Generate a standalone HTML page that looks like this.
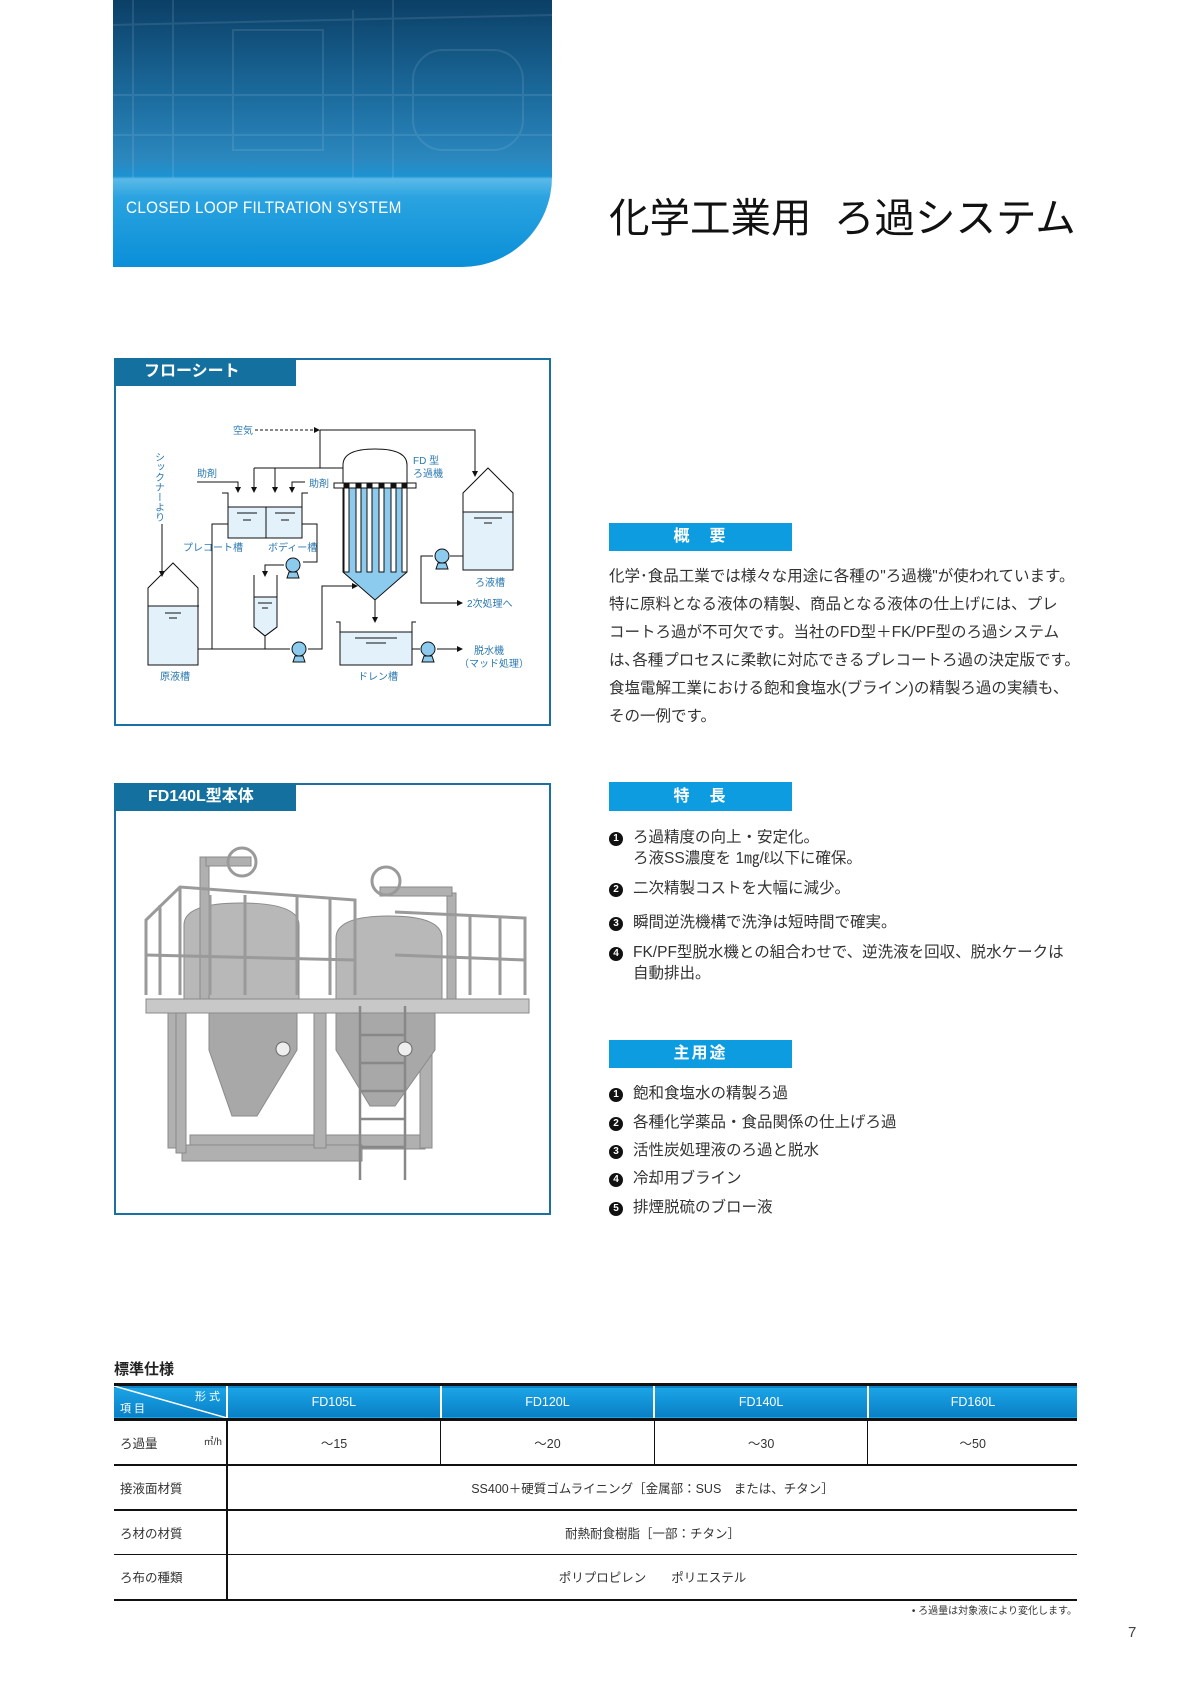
<!DOCTYPE html>
<html><head><meta charset="utf-8">
<style>
*{margin:0;padding:0;box-sizing:border-box}
body{width:1191px;height:1684px;background:#fff;position:relative;overflow:hidden;font-family:"Liberation Sans","Noto Sans CJK JP",sans-serif;color:#222}
.abs{position:absolute}
.tab{position:absolute;background:#0e9ce0;color:#fff;font-weight:bold;font-size:16px;text-align:center;letter-spacing:2px}
.para div{height:28px;line-height:28px;font-size:15.5px;white-space:nowrap;color:#333}
.li{position:absolute;left:609px;font-size:15.5px;white-space:nowrap;color:#333;line-height:21px}
.li b{display:inline-block;width:14px;height:14px;border-radius:50%;background:#111;color:#fff;font-size:10px;text-align:center;line-height:14px;margin-right:10px;vertical-align:1px}
.box{position:absolute;border:2px solid #1a6fa3;background:#fff}
.boxtab{position:absolute;left:-2px;top:-2px;height:28px;width:182px;background:#14709f;color:#fff;font-weight:bold;font-size:16px;line-height:28px;padding-left:30px}
table{border-collapse:collapse;position:absolute;left:114px;top:1383px;width:963px;font-size:12.5px;color:#333}
td{text-align:center}
</style></head><body>

<!-- banner -->
<div class="abs" style="left:113px;top:0;width:439px;height:267px;border-bottom-right-radius:90px;overflow:hidden;background:linear-gradient(180deg,#0b3f66 0%,#1b6a9c 35%,#2b88bf 60%,#1d93d2 66%,#5bb9e8 67%,#2aa3e0 74%,#0a8fd8 100%)">
<svg width="439" height="178" style="position:absolute;left:0;top:0;opacity:.12">
<g stroke="#cde" stroke-width="2" fill="none">
<rect x="120" y="30" width="90" height="120"/><rect x="300" y="50" width="110" height="100" rx="30"/>
<line x1="20" y1="0" x2="20" y2="178"/><line x1="60" y1="0" x2="60" y2="178"/><line x1="240" y1="10" x2="240" y2="178"/><line x1="280" y1="0" x2="280" y2="178"/><line x1="0" y1="95" x2="439" y2="95"/><line x1="0" y1="135" x2="439" y2="135"/><line x1="0" y1="25" x2="439" y2="15"/></g></svg>
<div class="abs" style="left:13px;top:198px;color:#fff;font-size:17px;letter-spacing:.3px;transform:scaleX(.9);transform-origin:left;white-space:nowrap">CLOSED LOOP FILTRATION SYSTEM</div>
</div>

<div class="abs" style="left:609px;top:185px;font-size:40.5px;color:#111;white-space:nowrap;letter-spacing:0px">化学工業用&nbsp;&nbsp;ろ過システム</div>

<!-- flow sheet -->
<div class="box" style="left:114px;top:358px;width:437px;height:368px"><div class="boxtab">フローシート</div></div>
<svg class="abs" style="left:0;top:0" width="1191" height="760" font-family="Liberation Sans,Noto Sans CJK JP,sans-serif" font-size="9" fill="#2a78b0">
<defs><marker id="ar" markerWidth="6" markerHeight="6" refX="5" refY="3" orient="auto"><path d="M0,0 L6,3 L0,6z" fill="#111"/></marker></defs>
<g stroke="#111" stroke-width="1" fill="none">
<line x1="255" y1="430" x2="319" y2="430" stroke-dasharray="3,2" marker-end="url(#ar)"/>
<polyline points="320,430 475,430 475,476" marker-end="url(#ar)"/>
<polyline points="320,430 320,468 343,468"/>
<polyline points="254,468 320,468"/>
<line x1="254" y1="468" x2="254" y2="492" marker-end="url(#ar)"/>
<line x1="275" y1="468" x2="275" y2="492" marker-end="url(#ar)"/>
<polyline points="197,482 238,482 238,492" marker-end="url(#ar)"/>
<polyline points="305,482 292,482 292,492" marker-end="url(#ar)"/>
<polyline points="228,524 212,524 212,649"/>
<polyline points="302,524 317,524 317,562 303,562"/>
<polyline points="284,565 265,565 265,576" marker-end="url(#ar)"/>
<line x1="162" y1="524" x2="162" y2="576" marker-end="url(#ar)"/>
<polyline points="198,649 290,649"/>
<line x1="265" y1="636" x2="265" y2="649"/>
<polyline points="308,649 322,649 322,586 357,586" marker-end="url(#ar)"/>
<line x1="375" y1="600" x2="375" y2="622" marker-end="url(#ar)"/>
<polyline points="412,649 420,649"/><polyline points="437,649 462,649" marker-end="url(#ar)"/>
<polyline points="463,556 450,556"/><polyline points="433,556 421,556 421,603 462,603" marker-end="url(#ar)"/>
</g>
<g stroke="#111" stroke-width="1">
<rect x="228" y="507" width="74" height="31" fill="#e3f1fb"/>
<polyline points="222,493 228,493 228,538 302,538 302,493 308,493" fill="none"/>
<line x1="266" y1="507" x2="266" y2="538"/>
<line x1="237" y1="513" x2="257" y2="513"/><line x1="243" y1="520" x2="251" y2="520"/>
<line x1="275" y1="513" x2="295" y2="513"/><line x1="281" y1="520" x2="289" y2="520"/>
<path d="M254,597 L277,597 L277,627 L265,636 L254,627Z" fill="#e3f1fb"/>
<polyline points="254,575 254,627 265,636 277,627 277,575" fill="none"/>
<line x1="258" y1="603" x2="272" y2="603"/><line x1="262" y1="608" x2="268" y2="608"/>
<rect x="148" y="606" width="50" height="59" fill="#e3f1fb"/>
<polyline points="148,665 148,588 173,563 198,588 198,665 148,665" fill="none"/>
<line x1="148" y1="606" x2="199" y2="606"/>
<line x1="165" y1="613" x2="181" y2="613"/><line x1="169" y1="618" x2="177" y2="618"/>
<path d="M343,483 L343,465 Q343,449 375,449 Q407,449 407,465 L407,483Z" fill="#fff"/>
<path d="M343,488 L407,488 L407,572 L375,600 L343,572Z" fill="#8ccbee"/>
<rect x="334" y="483" width="82" height="5" fill="#fff"/>
<g fill="#fff"><rect x="344" y="488" width="5" height="84"/><rect x="356" y="488" width="5" height="84"/><rect x="367" y="488" width="5" height="84"/><rect x="379" y="488" width="5" height="84"/><rect x="391" y="488" width="5" height="84"/><rect x="402" y="488" width="5" height="84"/></g>
<g fill="#111"><rect x="344" y="483" width="5" height="5"/><rect x="356" y="483" width="5" height="5"/><rect x="367" y="483" width="5" height="5"/><rect x="379" y="483" width="5" height="5"/><rect x="391" y="483" width="5" height="5"/><rect x="402" y="483" width="5" height="5"/></g>
<rect x="340" y="632" width="72" height="33" fill="#e3f1fb"/>
<polyline points="336,622 340,622 340,665 412,665 412,622 416,622" fill="none"/>
<line x1="355" y1="638" x2="397" y2="638"/><line x1="366" y1="643" x2="386" y2="643"/>
<rect x="463" y="512" width="50" height="58" fill="#e3f1fb"/>
<polyline points="463,570 463,493 488,468 513,493 513,570 463,570" fill="none"/>
<line x1="463" y1="512" x2="513" y2="512"/>
<line x1="474" y1="518" x2="502" y2="518"/><line x1="484" y1="523" x2="492" y2="523"/>
<g fill="#8ccbee">
<path d="M289,572 L297,572 L299,578 L287,578Z"/><circle cx="293" cy="565" r="7"/>
<path d="M295,656 L303,656 L305,662 L293,662Z"/><circle cx="299" cy="649" r="7"/>
<path d="M424,656 L432,656 L434,662 L422,662Z"/><circle cx="428" cy="649" r="7"/>
<path d="M438,563 L446,563 L448,569 L436,569Z"/><circle cx="442" cy="556" r="7"/>
</g>
</g>
<g>
<text x="233" y="434" font-size="10">空気</text>
<text x="197" y="477" font-size="10">助剤</text>
<text x="309" y="487" font-size="10">助剤</text>
<text x="413" y="464" font-size="10">FD 型</text>
<text x="413" y="477" font-size="10">ろ過機</text>
<text x="183" y="551" font-size="10">プレコート槽</text>
<text x="268" y="551" font-size="10">ボディー槽</text>
<text x="160" y="680" font-size="10">原液槽</text>
<text x="358" y="680" font-size="10">ドレン槽</text>
<text x="475" y="586" font-size="10">ろ液槽</text>
<text x="467" y="607" font-size="10">2次処理へ</text>
<text x="474" y="654" font-size="10">脱水機</text>
<text x="459" y="667" font-size="10">（マッド処理）</text>
<text x="158" y="452" font-size="10" style="writing-mode:vertical-rl">シックナーより</text>
</g>
</svg>

<!-- FD140L box -->
<div class="box" style="left:114px;top:783px;width:437px;height:432px"><div class="boxtab" style="padding-left:34px">FD140L型本体</div></div>
<svg class="abs" style="left:0;top:0" width="1191" height="1220">
<g fill="#b0b0b0" stroke="#8a8a8a" stroke-width="1">
<rect x="168" y="1013" width="14" height="135"/><rect x="190" y="1135" width="235" height="14"/>
<rect x="182" y="1145" width="180" height="16"/>
<rect x="314" y="1013" width="12" height="135"/><rect x="420" y="1013" width="12" height="135"/>
<rect x="176" y="1013" width="10" height="140"/>
<path d="M184,1000 L184,925 Q184,903 241,903 Q299,903 299,925 L299,1000Z" fill="#b8b8b8"/>
<path d="M209,1013 L297,1013 L297,1050 L257,1116 L232,1116 L209,1050Z" fill="#a8a8a8"/>
<path d="M336,1000 L336,938 Q336,916 389,916 Q442,916 442,938 L442,1000Z" fill="#b8b8b8"/>
<path d="M336,1013 L435,1013 L435,1050 L395,1106 L370,1106 L336,1050Z" fill="#a8a8a8"/>
<rect x="146" y="999" width="383" height="14" fill="#c8c8c8"/>
<rect x="200" y="857" width="9" height="142"/><rect x="447" y="893" width="9" height="106"/>
<rect x="380" y="887" width="72" height="9"/><rect x="206" y="857" width="45" height="9"/>
</g>
<g stroke="#9a9a9a" stroke-width="3" fill="none">
<polyline points="146,995 146,920 180,887 355,900 355,995"/>
<polyline points="180,887 180,995"/><polyline points="160,905 160,995"/>
<polyline points="395,912 525,918 525,995"/>
<line x1="146" y1="955" x2="355" y2="960"/><line x1="395" y1="955" x2="525" y2="960"/>
<line x1="210" y1="895" x2="210" y2="995"/><line x1="245" y1="895" x2="245" y2="995"/><line x1="297" y1="897" x2="297" y2="995"/><line x1="330" y1="899" x2="330" y2="995"/>
<line x1="470" y1="915" x2="470" y2="995"/><line x1="500" y1="917" x2="500" y2="995"/>
<circle cx="242" cy="862" r="14"/><circle cx="386" cy="881" r="14"/>
</g>
<g stroke="#888" stroke-width="2.5"><line x1="360" y1="1006" x2="360" y2="1180"/><line x1="405" y1="1006" x2="405" y2="1180"/>
<line x1="360" y1="1035" x2="405" y2="1035"/><line x1="360" y1="1063" x2="405" y2="1063"/><line x1="360" y1="1091" x2="405" y2="1091"/><line x1="360" y1="1119" x2="405" y2="1119"/><line x1="360" y1="1147" x2="405" y2="1147"/></g>
<circle cx="283" cy="1049" r="7" fill="#eee" stroke="#666"/><circle cx="405" cy="1049" r="7" fill="#eee" stroke="#666"/>
</svg>

<div class="tab" style="left:609px;top:523px;width:183px;height:28px;line-height:28px">概　要</div>
<div class="abs para" style="left:609px;top:563px">
<div>化学･食品工業では様々な用途に各種の"ろ過機"が使われています。</div>
<div>特に原料となる液体の精製、商品となる液体の仕上げには、プレ</div>
<div>コートろ過が不可欠です。当社のFD型＋FK/PF型のろ過システム</div>
<div>は､各種プロセスに柔軟に対応できるプレコートろ過の決定版です。</div>
<div>食塩電解工業における飽和食塩水(ブライン)の精製ろ過の実績も、</div>
<div>その一例です。</div>
</div>

<div class="tab" style="left:609px;top:782px;width:183px;height:29px;line-height:29px">特　長</div>
<div class="li" style="top:827px"><b>1</b>ろ過精度の向上・安定化。<br><span style="padding-left:24px">ろ液SS濃度を 1㎎/ℓ以下に確保。</span></div>
<div class="li" style="top:878px"><b>2</b>二次精製コストを大幅に減少。</div>
<div class="li" style="top:912px"><b>3</b>瞬間逆洗機構で洗浄は短時間で確実。</div>
<div class="li" style="top:942px"><b>4</b>FK/PF型脱水機との組合わせで、逆洗液を回収、脱水ケークは<br><span style="padding-left:24px">自動排出。</span></div>

<div class="tab" style="left:609px;top:1040px;width:183px;height:28px;line-height:28px">主用途</div>
<div class="li" style="top:1083px"><b>1</b>飽和食塩水の精製ろ過</div>
<div class="li" style="top:1112px"><b>2</b>各種化学薬品・食品関係の仕上げろ過</div>
<div class="li" style="top:1140px"><b>3</b>活性炭処理液のろ過と脱水</div>
<div class="li" style="top:1168px"><b>4</b>冷却用ブライン</div>
<div class="li" style="top:1197px"><b>5</b>排煙脱硫のブロー液</div>

<div class="abs" style="left:114px;top:1358px;font-size:15px;font-weight:bold;color:#222">標準仕様</div>
<table>
<tr style="height:35px;background:linear-gradient(#1aa4e6,#0a80c6);color:#fff;border-top:3px solid #111;border-bottom:3px solid #111">
<td style="width:113px;position:relative;text-align:left;font-size:11px">
<svg style="position:absolute;left:0;top:0" width="113" height="32"><line x1="0" y1="0" x2="113" y2="32" stroke="#fff" stroke-width="1.5"/></svg>
<span style="position:absolute;right:6px;top:2px">形 式</span><span style="position:absolute;left:6px;bottom:2px">項 目</span></td>
<td style="border-left:2px solid #fff">FD105L</td><td style="border-left:2px solid #fff">FD120L</td><td style="border-left:2px solid #fff">FD140L</td><td style="border-left:2px solid #fff">FD160L</td></tr>
<tr style="height:45px;border-bottom:2px solid #111"><td style="text-align:left;padding-left:6px;border-right:2px solid #111">ろ過量<span style="float:right;padding-right:4px;font-size:10px">㎥/h</span></td>
<td style="border-right:1.5px solid #111">～15</td><td style="border-right:1.5px solid #111">～20</td><td style="border-right:1.5px solid #111">～30</td><td>～50</td></tr>
<tr style="height:45px;border-bottom:2px solid #111"><td style="text-align:left;padding-left:6px;border-right:2px solid #111">接液面材質</td><td colspan="4">SS400＋硬質ゴムライニング［金属部：SUS　または、チタン］</td></tr>
<tr style="height:45px;border-bottom:1.5px solid #111"><td style="text-align:left;padding-left:6px;border-right:2px solid #111">ろ材の材質</td><td colspan="4">耐熱耐食樹脂［一部：チタン］</td></tr>
<tr style="height:45px;border-bottom:2px solid #111"><td style="text-align:left;padding-left:6px;border-right:2px solid #111">ろ布の種類</td><td colspan="4">ポリプロピレン　　ポリエステル</td></tr>
</table>
<div class="abs" style="right:114px;top:1602px;font-size:10px;color:#333">• ろ過量は対象液により変化します。</div>
<div class="abs" style="left:1128px;top:1624px;font-size:15px;color:#444">7</div>
</body></html>
